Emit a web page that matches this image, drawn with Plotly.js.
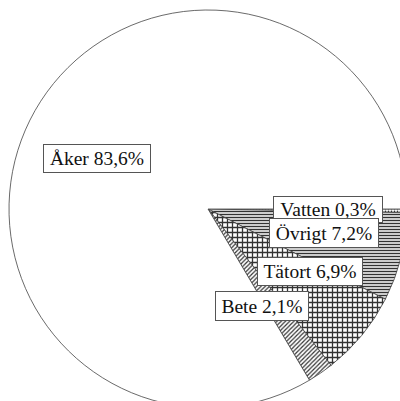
<!DOCTYPE html>
<html>
<head>
<meta charset="utf-8">
<script src="https://cdn.plot.ly/plotly-3.0.1.min.js"></script>
<style>
  html, body { margin: 0; padding: 0; background: #fff; overflow: hidden; }
  #chart { width: 410px; height: 410px; }
</style>
</head>
<body>
<div id="chart"></div>
<script>
// Markanvändning, andel av ytan (%), clockwise from 3 o'clock
const labels  = ['Vatten', 'Övrigt', 'Tätort', 'Bete', 'Åker'];
const shares  = [0.3, 7.2, 6.9, 2.1, 83.6];
const shapes  = ['.', '-', '+', '/', ''];

// Label boxes: centre x, centre y, width, height (px)
const boxCx = [328, 324, 310, 262, 97];
const boxCy = [210, 233, 271.5, 306, 158.5];
const boxW  = [110, 110, 106, 94, 108];
const boxH  = [27, 30, 29, 30, 29];

// figure is a bit larger than the window so the circle can run off the edge
const W = 410, H = 410;
const m = { l: 9, r: 3, t: 10, b: 2 };
const pw = W - m.l - m.r, ph = H - m.t - m.b;

const fmt = v => v.toFixed(1).replace('.', ',');

const trace = {
  type: 'pie',
  labels: labels,
  values: shares,
  sort: false,
  direction: 'clockwise',
  rotation: 90,
  textinfo: 'none',
  hoverinfo: 'label+percent',
  marker: {
    colors: ['#ffffff', '#ffffff', '#ffffff', '#ffffff', '#ffffff'],
    line: { color: '#444', width: 0.8 },
    pattern: {
      shape: shapes,
      fgcolor: '#333333',
      bgcolor: '#ffffff',
      size: [3, 3, 5, 3, 8],
      solidity: [0.3, 0.5, 0.45, 0.4, 0.3]
    }
  },
  showlegend: false
};

const pad = 1;
const annotations = labels.map((lab, i) => ({
  x: (boxCx[i] - m.l) / pw,
  y: 1 - (boxCy[i] - m.t) / ph,
  xref: 'paper', yref: 'paper',
  xanchor: 'center', yanchor: 'middle',
  text: `${lab} ${fmt(shares[i])}%`,
  showarrow: false,
  width: boxW[i] - 2 * pad - 2,
  height: boxH[i] - 2 * pad - 2,
  align: 'center',
  valign: 'middle',
  font: { family: 'Liberation Serif', size: 19.5, color: '#111' },
  bgcolor: '#ffffff',
  bordercolor: '#555',
  borderwidth: 1,
  borderpad: pad
}));

Plotly.newPlot('chart', [trace], {
  width: W, height: H,
  margin: m,
  paper_bgcolor: '#ffffff',
  annotations: annotations
}, { displayModeBar: false, staticPlot: true });
</script>
</body>
</html>
